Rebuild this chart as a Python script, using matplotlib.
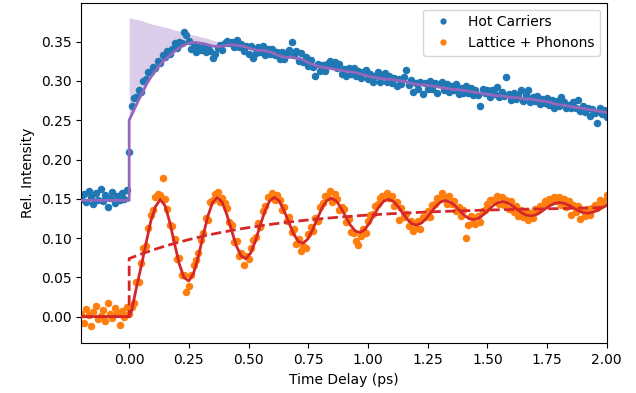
import matplotlib
matplotlib.use('Agg')
import matplotlib.pyplot as plt
import numpy as np

# ---- Hot carriers (blue points), delays -0.20 ... 2.00 ps every 0.01 ps
hot_t = np.linspace(-0.2, 2.0, 221)
hot = [
    0.150, 0.156, 0.146, 0.160, 0.152, 0.143, 0.158, 0.149, 0.162, 0.147,
    0.155, 0.140, 0.151, 0.159, 0.145, 0.153, 0.148, 0.157, 0.150, 0.161,
    0.210,
    0.268, 0.278, 0.279, 0.289, 0.286, 0.300, 0.302, 0.311, 0.311, 0.318,
    0.317, 0.325, 0.323, 0.333, 0.331, 0.338, 0.334, 0.341, 0.348, 0.342,
    0.350, 0.348, 0.362, 0.359, 0.351, 0.341, 0.345, 0.337, 0.343, 0.339,
    0.344, 0.337, 0.343, 0.338, 0.329, 0.334, 0.342, 0.346, 0.339, 0.348,
    0.351, 0.348, 0.350, 0.343, 0.352, 0.343, 0.347, 0.338, 0.344, 0.334,
    0.344, 0.329, 0.336, 0.343, 0.337, 0.345, 0.333, 0.341, 0.334, 0.341,
    0.333, 0.337, 0.328, 0.337, 0.328, 0.335, 0.340, 0.349, 0.333, 0.338,
    0.326, 0.335, 0.324, 0.331, 0.319, 0.327, 0.318, 0.306, 0.321, 0.313,
    0.320, 0.313, 0.322, 0.326, 0.320, 0.324, 0.317, 0.321, 0.309, 0.315,
    0.306, 0.316, 0.309, 0.317, 0.306, 0.313, 0.304, 0.312, 0.314, 0.303,
    0.309, 0.299, 0.306, 0.311, 0.299, 0.306, 0.310, 0.299, 0.306, 0.297,
    0.304, 0.294, 0.302, 0.296, 0.305, 0.314, 0.295, 0.301, 0.286, 0.298,
    0.290, 0.299, 0.283, 0.298, 0.290, 0.300, 0.290, 0.298, 0.285, 0.296,
    0.299, 0.289, 0.296, 0.286, 0.294, 0.288, 0.296, 0.284, 0.291, 0.285,
    0.293, 0.285, 0.291, 0.282, 0.289, 0.282, 0.268, 0.290, 0.285, 0.289,
    0.279, 0.289, 0.284, 0.292, 0.279, 0.286, 0.281, 0.305, 0.284, 0.276,
    0.285, 0.277, 0.282, 0.288, 0.275, 0.282, 0.289, 0.273, 0.280, 0.274,
    0.281, 0.271, 0.277, 0.272, 0.278, 0.269, 0.276, 0.266, 0.274, 0.268,
    0.280, 0.273, 0.265, 0.270, 0.265, 0.273, 0.265, 0.276, 0.262, 0.268,
    0.260, 0.266, 0.255, 0.264, 0.259, 0.247, 0.265, 0.258, 0.263, 0.254,
]

# ---- Lattice + phonons (orange points), same delays
lat_t = np.linspace(-0.2, 2.0, 221)
lattice = [
    0.004, -0.008, 0.010, 0.002, -0.012, 0.006, 0.013, -0.003, 0.001, 0.009,
    -0.006, 0.018, 0.003, -0.002, 0.011, 0.005, -0.010, 0.007, 0.000, 0.012,
    0.004,
    0.012, 0.018, 0.044, 0.044, 0.068, 0.088, 0.090, 0.113, 0.130, 0.136,
    0.152, 0.156, 0.155, 0.176, 0.150, 0.137, 0.117, 0.116, 0.099, 0.074,
    0.075, 0.053, 0.053, 0.032, 0.039, 0.053, 0.066, 0.072, 0.081, 0.097,
    0.107, 0.126, 0.123, 0.146, 0.149, 0.156, 0.159, 0.146, 0.151, 0.145,
    0.138, 0.121, 0.117, 0.095, 0.096, 0.077, 0.081, 0.066, 0.077, 0.073,
    0.087, 0.098, 0.102, 0.119, 0.114, 0.135, 0.141, 0.152, 0.152, 0.157,
    0.149, 0.155, 0.149, 0.136, 0.140, 0.122, 0.127, 0.108, 0.111, 0.093,
    0.099, 0.083, 0.090, 0.088, 0.105, 0.114, 0.109, 0.125, 0.122, 0.140,
    0.145, 0.153, 0.154, 0.160, 0.146, 0.156, 0.150, 0.136, 0.139, 0.137,
    0.120, 0.124, 0.108, 0.106, 0.096, 0.091, 0.103, 0.112, 0.106, 0.122,
    0.129, 0.131, 0.141, 0.143, 0.151, 0.154, 0.153, 0.157, 0.151, 0.154,
    0.141, 0.146, 0.123, 0.138, 0.127, 0.131, 0.116, 0.122, 0.109, 0.113,
    0.122, 0.112, 0.127, 0.127, 0.135, 0.127, 0.142, 0.143, 0.151, 0.151,
    0.158, 0.152, 0.143, 0.153, 0.143, 0.147, 0.134, 0.140, 0.128, 0.136,
    0.100, 0.117, 0.128, 0.119, 0.118, 0.128, 0.121, 0.135, 0.136, 0.144,
    0.149, 0.148, 0.147, 0.153, 0.144, 0.152, 0.142, 0.149, 0.137, 0.147,
    0.133, 0.141, 0.128, 0.136, 0.127, 0.135, 0.123, 0.132, 0.126, 0.137,
    0.135, 0.141, 0.141, 0.147, 0.144, 0.150, 0.147, 0.152, 0.147, 0.152,
    0.142, 0.150, 0.139, 0.147, 0.130, 0.142, 0.133, 0.141, 0.124, 0.136,
    0.128, 0.137, 0.130, 0.138, 0.142, 0.138, 0.149, 0.143, 0.147, 0.155,
]

# ---- fit of hot carriers (purple), 0.02 ps steps from 0 to 2 ps
hot_fit_pre_t = [-0.2, 0.0]
hot_fit_pre = [0.148, 0.148]
hot_fit_t = np.linspace(0.0, 2.0, 101)
hot_fit = [
    0.250, 0.263, 0.276, 0.288, 0.300, 0.309, 0.317, 0.324, 0.330, 0.335,
    0.340, 0.344, 0.347, 0.349, 0.349, 0.348, 0.347, 0.345, 0.344, 0.344,
    0.345, 0.346, 0.346, 0.345, 0.344, 0.342, 0.340, 0.339, 0.339, 0.338,
    0.336, 0.333, 0.331, 0.330, 0.330, 0.329, 0.328, 0.325, 0.322, 0.320,
    0.318, 0.317, 0.316, 0.315, 0.314, 0.313, 0.312, 0.311, 0.310, 0.308,
    0.306, 0.305, 0.304, 0.303, 0.302, 0.302, 0.301, 0.300, 0.299, 0.297,
    0.296, 0.295, 0.295, 0.294, 0.293, 0.292, 0.291, 0.290, 0.289, 0.289,
    0.288, 0.287, 0.286, 0.285, 0.284, 0.283, 0.282, 0.281, 0.281, 0.280,
    0.279, 0.279, 0.278, 0.277, 0.277, 0.276, 0.275, 0.274, 0.273, 0.271,
    0.270, 0.269, 0.268, 0.267, 0.266, 0.265, 0.264, 0.263, 0.262, 0.261,
    0.260,
]

# shaded band above the early part of the fit (0 - 0.4 ps)
band_t = np.linspace(0.0, 0.4, 21)
band_hi = [
    0.381, 0.379, 0.378, 0.376, 0.374, 0.372, 0.371, 0.369, 0.368, 0.366,
    0.364, 0.363, 0.361, 0.359, 0.358, 0.356, 0.355, 0.353, 0.351, 0.350,
    0.348,
]

# ---- fit of lattice + phonons (red), oscillating part
lat_fit_pre_t = [-0.2, 0.0]
lat_fit_pre = [0.0, 0.0]
lat_fit_t = np.linspace(0.0105, 2.0022, 101)
lat_fit = [
    0.008, 0.037, 0.064, 0.093, 0.121, 0.140,
    0.1491, 0.1415, 0.1206, 0.0932, 0.0672, 0.0497, 0.0454, 0.0550, 0.0759, 0.1024,
    0.1276, 0.1453, 0.1516, 0.1459, 0.1302, 0.1098, 0.0903, 0.0772, 0.0737, 0.0808,
    0.0961, 0.1156, 0.1342, 0.1472, 0.1519, 0.1474, 0.1356, 0.1204, 0.1059, 0.0960,
    0.0934, 0.0986, 0.1098, 0.1242, 0.1380, 0.1476, 0.1508, 0.1474, 0.1387, 0.1273,
    0.1165, 0.1091, 0.1071, 0.1108, 0.1192, 0.1297, 0.1399, 0.1470, 0.1493, 0.1469,
    0.1403, 0.1318, 0.1237, 0.1181, 0.1166, 0.1194, 0.1255, 0.1334, 0.1408, 0.1461,
    0.1478, 0.1459, 0.1411, 0.1347, 0.1287, 0.1246, 0.1235, 0.1255, 0.1301, 0.1358,
    0.1414, 0.1451, 0.1465, 0.1450, 0.1414, 0.1367, 0.1322, 0.1291, 0.1283, 0.1298,
    0.1331, 0.1374, 0.1415, 0.1443, 0.1453, 0.1442, 0.1415, 0.1380, 0.1347, 0.1324,
    0.1318, 0.1330, 0.1356, 0.1388, 0.1420,
]

# non-oscillating background (dashed red), 0.05 ps steps
bg_pre_t = [-0.2, 0.0]
bg_pre = [0.0, 0.0]
bg_t = np.linspace(0.0, 2.0, 41)
bg = [
    0.0740, 0.0797, 0.0850, 0.0898, 0.0941, 0.0981, 0.1018, 0.1051, 0.1081, 0.1109,
    0.1134, 0.1157, 0.1178, 0.1198, 0.1215, 0.1231, 0.1246, 0.1259, 0.1271, 0.1283,
    0.1293, 0.1302, 0.1311, 0.1318, 0.1326, 0.1332, 0.1338, 0.1343, 0.1348, 0.1353,
    0.1357, 0.1361, 0.1364, 0.1367, 0.1370, 0.1373, 0.1376, 0.1379, 0.1383, 0.1387,
    0.1392,
]

fig = plt.figure(figsize=(6.36, 3.93), dpi=100)
ax = fig.add_axes([0.128, 0.1265, 0.826, 0.8665])

ax.fill_between(band_t, hot_fit[:21], band_hi, where=np.array(band_hi) >= np.array(hot_fit[:21]),
                color='tab:purple', alpha=0.33, linewidth=0, zorder=1)

ax.plot(hot_t, hot, 'o', color='tab:blue', ms=4.4, label='Hot Carriers', zorder=2)
ax.plot(lat_t, lattice, 'o', color='tab:orange', ms=4.4, label='Lattice + Phonons', zorder=2)

ax.plot(list(hot_fit_pre_t) + list(hot_fit_t), hot_fit_pre + hot_fit, color='tab:purple', lw=2, zorder=3)
ax.plot(list(bg_pre_t) + list(bg_t), bg_pre + bg, color='tab:red', lw=2, ls='--', zorder=3)
ax.plot(list(lat_fit_pre_t) + list(lat_fit_t), lat_fit_pre + lat_fit, color='tab:red', lw=2, zorder=4)

ax.set_xlim(-0.2, 2.0)
ax.set_ylim(-0.0339, 0.3996)
ax.set_xticks([0.0, 0.25, 0.5, 0.75, 1.0, 1.25, 1.5, 1.75, 2.0])
ax.set_yticks([0.0, 0.05, 0.1, 0.15, 0.2, 0.25, 0.3, 0.35])
ax.set_xlabel('Time Delay (ps)')
ax.set_ylabel('Rel. Intensity')
ax.legend(loc='upper right', markerscale=0.8)

fig.savefig('out.png', dpi=100)
